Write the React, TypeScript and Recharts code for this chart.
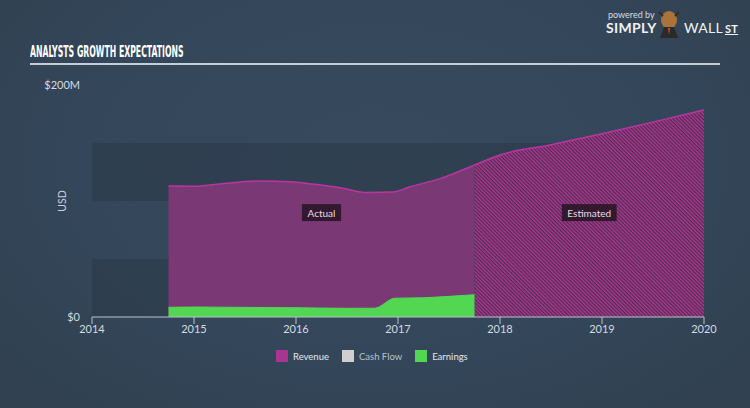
import {
  ComposedChart,
  Area,
  XAxis,
  YAxis,
  ReferenceArea,
} from 'recharts';

// years as fractional x positions, values in $M
const revenueActualYears = [2014.75, 2015.0, 2015.25, 2015.65, 2015.95, 2016.15, 2016.45, 2016.68, 2016.95, 2017.12, 2017.42, 2017.75];
const revenueActual = [112.9, 112.7, 114.7, 117.2, 116.6, 114.7, 111.2, 107.4, 107.8, 112.3, 119.5, 131];

const revenueEstimateYears = [2017.75, 2018.0, 2018.5, 2019.0, 2019.5, 2020.0];
const revenueEstimate = [131, 139.7, 148.5, 158, 168, 178.5];

const earningsYears = [2014.75, 2015.0, 2015.5, 2016.0, 2016.5, 2016.77, 2016.97, 2017.25, 2017.5, 2017.75];
const earnings = [8.4, 8.6, 8.3, 8.0, 7.5, 7.6, 16.2, 16.6, 17.8, 19.2];

const xTicks = [2014, 2015, 2016, 2017, 2018, 2019, 2020];
const yTicks = [0, 200];
const bands = [[0, 50], [100, 150]];

const LEGEND = [
  { name: 'Revenue', color: '#a8358f' },
  { name: 'Cash Flow', color: '#cfcfcf' },
  { name: 'Earnings', color: '#52d752' },
];

const allYears = Array.from(
  new Set([...revenueActualYears, ...revenueEstimateYears, ...earningsYears]),
).sort((a, b) => a - b);

const data = allYears.map((year) => {
  const ra = revenueActualYears.indexOf(year);
  const re = revenueEstimateYears.indexOf(year);
  const e = earningsYears.indexOf(year);
  return {
    year,
    revenueActual: ra >= 0 ? revenueActual[ra] : null,
    revenueEstimate: re >= 0 ? revenueEstimate[re] : null,
    earnings: e >= 0 ? earnings[e] : null,
  };
});

const FONT = 'Lato, "Open Sans", sans-serif';
const BG = '#34465a';

function RegionLabel({ viewBox, text }: any) {
  if (!viewBox) return null;
  const cx = viewBox.x + viewBox.width / 2;
  const cy = viewBox.y + viewBox.height / 2;
  const w = text.length * 5.2 + 8;
  return (
    <g>
      <rect x={cx - w / 2} y={cy - 8.5} width={w} height={17} fill="#2a1628" fillOpacity={0.9} />
      <text x={cx} y={cy + 4} textAnchor="middle" fill="#e6dde6" fontSize={10} fontFamily={FONT}>
        {text}
      </text>
    </g>
  );
}

export default function App() {
  return (
    <div
      style={{
        position: 'absolute',
        left: 0,
        top: 0,
        width: 750,
        height: 408,
        background: `radial-gradient(ellipse at 50% 40%, #374a5e 0%, ${BG} 55%, #30404f 100%)`,
        fontFamily: FONT,
        overflow: 'hidden',
      }}
    >
      {/* logo */}
      <div style={{ position: 'absolute', left: 608, top: 9, color: '#d8dde2', fontSize: 9 }}>powered by</div>
      <div style={{ position: 'absolute', left: 606, top: 19, color: '#f0f2f4', fontSize: 14, fontWeight: 700, letterSpacing: 0.3 }}>
        SIMPLY
      </div>
      <svg style={{ position: 'absolute', left: 655, top: 8 }} width={28} height={30}>
        <ellipse cx={14} cy={12} rx={8} ry={9} fill="#a8743a" />
        <path d="M4 4 L8 8 M24 4 L20 8" stroke="#3a2a1a" strokeWidth={2} />
        <path d="M5 30 L9 19 L19 19 L23 30 Z" fill="#2a2a2a" />
        <path d="M13 20 L14 27 L15 20 Z" fill="#d9501c" />
      </svg>
      <div style={{ position: 'absolute', left: 684, top: 19, color: '#f0f2f4', fontSize: 14, letterSpacing: 0.3 }}>
        WALL<span style={{ fontWeight: 700, fontSize: 11, textDecoration: 'underline', marginLeft: 2 }}>ST</span>
      </div>

      {/* title */}
      <div
        style={{
          position: 'absolute',
          left: 30,
          top: 43,
          color: '#ffffff',
          fontFamily: '"DejaVu Sans Condensed", "DejaVu Sans", sans-serif',
          fontWeight: 700,
          fontSize: 15,
          whiteSpace: 'nowrap',
          transform: 'scaleX(0.575)',
          transformOrigin: 'left top',
        }}
      >
        ANALYSTS GROWTH EXPECTATIONS
      </div>
      <div style={{ position: 'absolute', left: 30, top: 63, width: 690, height: 2, background: '#c5ced6' }} />

      <div style={{ position: 'absolute', left: 0, top: 0 }}>
        <ComposedChart
          width={750}
          height={408}
          data={data}
          margin={{ top: 85, right: 46, bottom: 61, left: 0 }}
        >
          <defs>
            <pattern id="hatch" width="2.6" height="2.6" patternUnits="userSpaceOnUse" patternTransform="rotate(-45)">
              <rect width="2.6" height="2.6" fill="#3f3152" />
              <rect width="1.4" height="2.6" fill="#b8338f" />
            </pattern>
          </defs>
          {bands.map(([a, b]) => (
            <ReferenceArea
              key={a}
              x1={2014}
              x2={2020}
              y1={a}
              y2={b}
              fill="#2c3b4a"
              fillOpacity={0.6}
              stroke="none"
            />
          ))}
          <XAxis
            dataKey="year"
            type="number"
            domain={[2014, 2020]}
            ticks={xTicks}
            height={30}
            tickSize={7}
            stroke="#b9c3cc"
            tick={{ fill: '#d5dbe0', fontSize: 11, fontFamily: FONT }}
            tickMargin={1}
          />
          <YAxis
            type="number"
            domain={[0, 200]}
            ticks={yTicks}
            width={92}
            axisLine={false}
            tickLine={false}
            tickSize={12}
            tickMargin={0}
            tick={{ fill: '#d5dbe0', fontSize: 11, fontFamily: FONT }}
            tickFormatter={(v: number) => (v === 0 ? '$0' : `$${v}M`)}
            label={{
              content: () => (
                <text
                  x={66}
                  y={201}
                  transform="rotate(-90 66 201)"
                  textAnchor="middle"
                  fill="#c8d0d8"
                  fontSize={10.5}
                  fontFamily={FONT}
                >
                  USD
                </text>
              ),
            }}
          />
          <Area
            dataKey="revenueActual"
            type="monotone"
            fill="#7a3975"
            fillOpacity={1}
            stroke="#b8379f"
            strokeWidth={1.5}
            connectNulls
            isAnimationActive={false}
          />
          <Area
            dataKey="revenueEstimate"
            type="monotone"
            fill="url(#hatch)"
            fillOpacity={1}
            stroke="#b8379f"
            strokeWidth={1.5}
            connectNulls
            isAnimationActive={false}
          />
          <Area
            dataKey="earnings"
            type="monotone"
            fill="#52d752"
            fillOpacity={1}
            stroke="#52d752"
            strokeWidth={1}
            connectNulls
            isAnimationActive={false}
          />
          <ReferenceArea
            x1={2014.75}
            x2={2017.75}
            y1={0}
            y2={180}
            fillOpacity={0}
            stroke="none"
            label={(p: any) => <RegionLabel {...p} text="Actual" />}
          />
          <ReferenceArea
            x1={2017.75}
            x2={2020}
            y1={0}
            y2={180}
            fillOpacity={0}
            stroke="none"
            label={(p: any) => <RegionLabel {...p} text="Estimated" />}
          />
        </ComposedChart>
      </div>

      {/* legend */}
      <div
        style={{
          position: 'absolute',
          top: 350,
          left: 276,
          display: 'flex',
          alignItems: 'center',
          fontSize: 9.5,
          color: '#e4e8ec',
        }}
      >
        {LEGEND.map((l) => (
          <div key={l.name} style={{ display: 'flex', alignItems: 'center', marginRight: 13 }}>
            <span style={{ display: 'inline-block', width: 12, height: 12, background: l.color, marginRight: 5 }} />
            <span style={{ color: l.name === 'Cash Flow' ? '#b9c1c9' : '#e4e8ec' }}>{l.name}</span>
          </div>
        ))}
      </div>
    </div>
  );
}
